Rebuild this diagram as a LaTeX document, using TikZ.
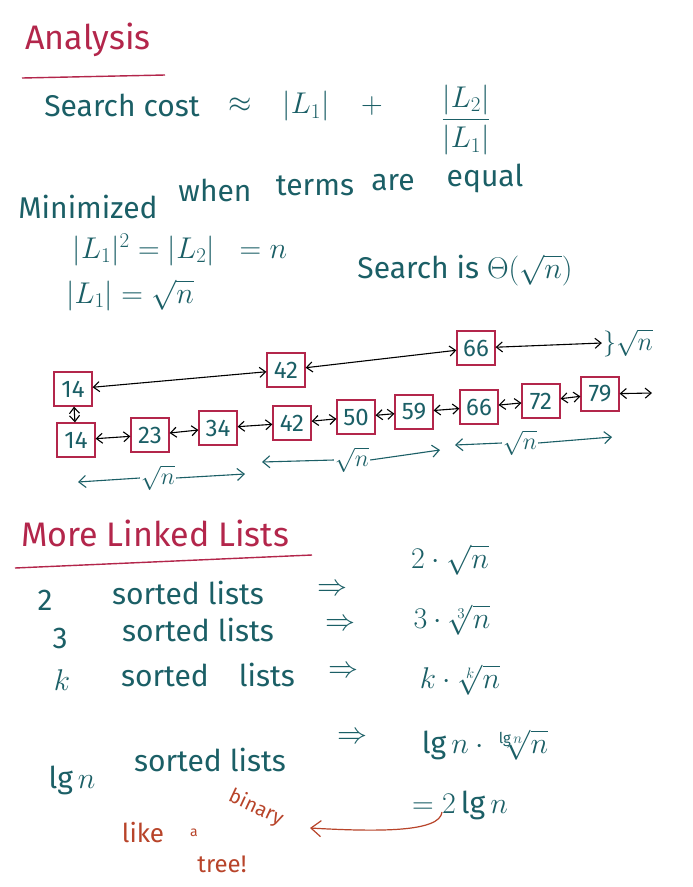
\RequirePackage{fix-cm}
\documentclass[tikz,border=0pt]{standalone}
\usepackage{amsmath}
\usepackage{fontspec}
\setmainfont{Fira Sans}
\usetikzlibrary{arrows.meta}
\definecolor{ink}{HTML}{1B5F66}
\definecolor{redink}{HTML}{B3264B}
\definecolor{brownred}{HTML}{B8442A}
\tikzset{
  tx/.style={text=ink, inner sep=1pt, font=\fontsize{30}{34}\selectfont},
  rtx/.style={text=redink, inner sep=1pt, font=\fontsize{34}{38}\selectfont},
  cell/.style={draw=redink, line width=1.2pt, text=ink, minimum width=38pt, minimum height=34pt, inner sep=1pt, font=\fontsize{24}{26}\selectfont},
  link/.style={black, line width=1.1pt, {Straight Barb[length=6pt,width=10pt]}-{Straight Barb[length=6pt,width=10pt]}},
  span/.style={ink, line width=1.1pt, -{Straight Barb[length=7pt,width=12pt]}},
  uline/.style={redink, line width=1.4pt}
}
\begin{document}
\begin{tikzpicture}[x=1pt,y=-1pt]
\fill[white] (0,0) rectangle (693,887);
\useasboundingbox (0,0) rectangle (693,887);
% Title
\node[rtx] (title) at (88,40) {Analysis};
\draw[uline] (22,78) -- (165,75);
% Search cost
\node[tx] (sc) at (122,105) {Search cost};
\node[tx] (apx) at (240,105) {$\approx$};
\node[tx] (l1) at (306,106) {$|L_1|$};
\node[tx] (plus) at (372,106) {$+$};
\node[tx] (frac) at (466,120) {$\dfrac{|L_2|}{|L_1|}$};
% Minimized
\node[tx] (mini) at (88,207) {Minimized};
\node[tx] (when) at (215,190) {when};
\node[tx] (terms) at (315,186) {terms};
\node[tx] (are) at (393,183) {are};
\node[tx] (equal) at (485,178) {equal};
% equations
\node[tx] (eq1) at (180,250) {$|L_1|^2 = |L_2| \;\; = n$};
\node[tx] (eq2) at (130,295) {$|L_1| = \sqrt{n}$};
\node[tx] (srch) at (465,270) {Search is $\Theta(\sqrt{n})$};
% top list
\node[cell] (t14) at (73,389) {14};
\node[cell] (t42) at (286,370) {42};
\node[cell] (t66) at (476,348) {66};
\node[tx, font=\fontsize{26}{28}\selectfont] (br) at (628,343) {$\}\sqrt{n}$};
% bottom list
\node[cell] (b14) at (76,440) {14};
\node[cell] (b23) at (150,435) {23};
\node[cell] (b34) at (218,428) {34};
\node[cell] (b42) at (292,423) {42};
\node[cell] (b50) at (356,417) {50};
\node[cell] (b59) at (414,412) {59};
\node[cell] (b66) at (479,407) {66};
\node[cell] (b72) at (541,401) {72};
\node[cell] (b79) at (600,394) {79};
\coordinate (end) at (652,393);
% links
\draw[link] (t14) -- (t42);
\draw[link] (t42) -- (t66);
\draw[link] (t66) -- (br.west);
\draw[link] (t14) -- (b14);
\draw[link] (b14) -- (b23);
\draw[link] (b23) -- (b34);
\draw[link] (b34) -- (b42);
\draw[link] (b42) -- (b50);
\draw[link] (b50) -- (b59);
\draw[link] (b59) -- (b66);
\draw[link] (b66) -- (b72);
\draw[link] (b72) -- (b79);
\draw[link] (b79) -- (end);
% sqrt n spans
\node[tx, font=\fontsize{24}{26}\selectfont] (s1) at (158,478) {$\sqrt{n}$};
\coordinate (s1l) at (78,482); \coordinate (s1r) at (245,474);
\draw[span] (s1.west) -- (s1l);
\draw[span] (s1.east) -- (s1r);
\node[tx, font=\fontsize{24}{26}\selectfont] (s2) at (352,460) {$\sqrt{n}$};
\coordinate (s2l) at (262,462); \coordinate (s2r) at (440,450);
\draw[span] (s2.west) -- (s2l);
\draw[span] (s2.east) -- (s2r);
\node[tx, font=\fontsize{24}{26}\selectfont] (s3) at (520,443) {$\sqrt{n}$};
\coordinate (s3l) at (455,445); \coordinate (s3r) at (612,437);
\draw[span] (s3.west) -- (s3l);
\draw[span] (s3.east) -- (s3r);
% More linked lists
\node[rtx] (more) at (155,533) {More Linked Lists};
\draw[uline] (15,568) -- (312,555);
\node[tx] (n2) at (45,600) {2};
\node[tx] (sl2) at (188,593) {sorted lists};
\node[tx] (i2) at (332,590) {$\Rightarrow$};
\node[tx] (r2) at (450,560) {$2\cdot\sqrt{n}$};
\node[tx] (n3) at (60,638) {3};
\node[tx] (sl3) at (198,630) {sorted lists};
\node[tx] (i3) at (340,625) {$\Rightarrow$};
\node[tx] (r3) at (452,620) {$3\cdot\sqrt[3]{n}$};
\node[tx] (nk) at (62,680) {$k$};
\node[tx] (slk) at (208,675) {sorted\quad lists};
\node[tx] (ik) at (343,672) {$\Rightarrow$};
\node[tx] (rk) at (460,680) {$k\cdot\sqrt[k]{n}$};
\node[tx] (nl) at (72,780) {$\lg n$};
\node[tx] (sll) at (210,760) {sorted lists};
\node[tx] (il) at (352,738) {$\Rightarrow$};
\node[tx] (rl) at (485,745) {$\lg n\cdot\sqrt[\lg n]{n}$};
\node[tx] (eq) at (460,805) {$= 2\lg n$};
% like a binary tree
\node[text=brownred, font=\fontsize{26}{28}\selectfont, inner sep=1pt] (like) at (143,833) {like};
\node[text=brownred, font=\fontsize{14}{16}\selectfont, inner sep=1pt] (a) at (194,833) {a};
\node[text=brownred, font=\fontsize{20}{22}\selectfont, inner sep=0pt, rotate=-25] (bin) at (256,808) {binary};
\node[text=brownred, font=\fontsize{24}{26}\selectfont, inner sep=1pt] (tree) at (222,864) {tree!};
\coordinate (cstart) at (442,812);
\coordinate (ctip) at (310,828);
\draw[brownred, line width=1.2pt, -{Straight Barb[length=10pt,width=16pt]}] (cstart) .. controls (440,832) and (380,832) .. (ctip);
\end{tikzpicture}
\end{document}
